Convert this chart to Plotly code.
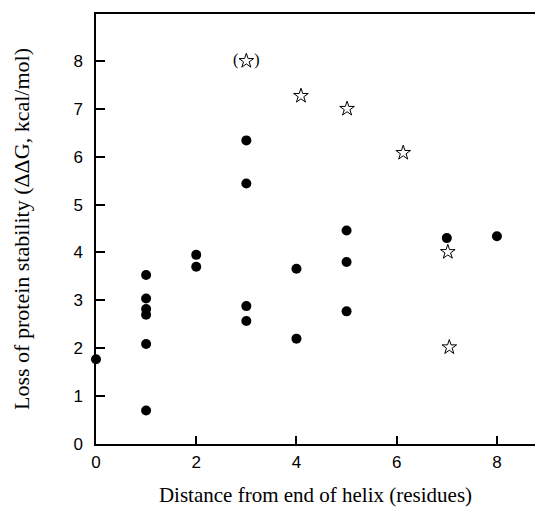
import plotly.graph_objects as go

# Filled circles: distance from helix end vs loss of stability
dot_x = [0, 1, 1, 1, 1, 1, 1, 2, 2, 3, 3, 3, 3, 4, 4, 5, 5, 5, 7, 8]
dot_y = [1.77, 3.53, 3.04, 2.82, 2.70, 2.09, 0.70, 3.95, 3.70,
         6.34, 5.44, 2.88, 2.57, 3.66, 2.20, 4.46, 3.80, 2.77, 4.30, 4.34]

# Open stars
star_x = [4.09, 5.01, 6.13, 7.02, 7.05]
star_y = [7.27, 7.00, 6.08, 4.01, 2.02]

# Parenthetical star
paren_x = [3.0]
paren_y = [8.0]

x_ticks = [0, 2, 4, 6, 8]
y_ticks = [0, 1, 2, 3, 4, 5, 6, 7, 8]

x_title = "Distance from end of helix (residues)"
y_title = "Loss of protein stability (ΔΔG, kcal/mol)"

fig = go.Figure()
fig.add_trace(go.Scatter(
    x=dot_x, y=dot_y, mode="markers",
    marker=dict(symbol="circle", size=10, color="black", line=dict(width=0)),
    cliponaxis=False, showlegend=False))
fig.add_trace(go.Scatter(
    x=star_x, y=star_y, mode="markers",
    marker=dict(symbol="star-open", size=11, color="black", line=dict(width=1, color="black")),
    cliponaxis=False, showlegend=False))
fig.add_trace(go.Scatter(
    x=paren_x, y=paren_y, mode="markers+text",
    marker=dict(symbol="star-open", size=11, color="black", line=dict(width=1, color="black")),
    text=["(&nbsp;&nbsp;&nbsp;&nbsp;)"], textposition="middle center",
    textfont=dict(family="Liberation Serif", size=16, color="black"),
    cliponaxis=False, showlegend=False))

axis_font = dict(family="Liberation Sans, Arial, sans-serif", size=17, color="black")

fig.update_layout(
    width=535, height=507,
    margin=dict(l=96, r=0, t=14, b=63, autoexpand=False),
    paper_bgcolor="white", plot_bgcolor="white",
    xaxis=dict(
        range=[0, 8.76], tickvals=x_ticks, ticktext=[str(v) for v in x_ticks],
        ticks="inside", ticklen=8, tickwidth=1.5, tickcolor="black",
        showline=True, linecolor="black", linewidth=1.5, mirror=True,
        showgrid=False, zeroline=False, tickfont=axis_font, automargin=False,
        ticklabelstandoff=2,
        title=dict(text=x_title, standoff=18,
                   font=dict(family="Liberation Serif, Times New Roman, serif", size=21, color="black")),
    ),
    yaxis=dict(
        range=[0, 8.98], tickvals=y_ticks, ticktext=[str(v) for v in y_ticks],
        ticks="inside", ticklen=9, tickwidth=1.5, tickcolor="black",
        showline=True, linecolor="black", linewidth=1.5, mirror=False,
        showgrid=False, zeroline=False, tickfont=axis_font, automargin=False,
        ticklabelstandoff=8,
        title=dict(text=y_title, standoff=38,
                   font=dict(family="Liberation Serif, Times New Roman, serif", size=22, color="black")),
    ),
)

fig.write_html("out.html", config={"displayModeBar": False},
               post_script="document.body.style.margin='0';")
